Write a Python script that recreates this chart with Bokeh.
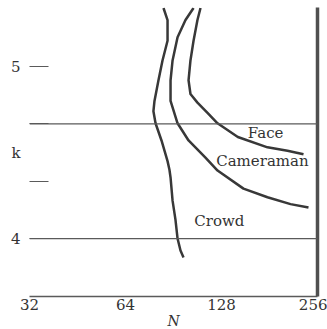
from bokeh.plotting import figure
from bokeh.models import Range1d, FixedTicker, CustomJSTickFormatter, Span, ColumnDataSource, LinearAxis
from bokeh.core.properties import value
from bokeh.embed import file_html
from bokeh.resources import INLINE

# ---- data ----
crowd_n = [84.2, 86.7, 86.7, 83.6, 81.2, 78.9, 78.3, 79.5, 83.0, 86.7, 87.9, 88.6, 89.9, 91.8, 93.2, 95.2, 97.3]
crowd_k = [5.34, 5.27, 5.15, 5.035, 4.92, 4.80, 4.74, 4.67, 4.57, 4.45, 4.40, 4.355, 4.22, 4.11, 4.00, 3.93, 3.89]

cam_n = [104.6, 98.7, 93.2, 89.9, 88.6, 88.6, 93.2, 100.9, 114.0, 124.4, 150.0, 178.4, 210.7, 239.9]
cam_k = [5.34, 5.27, 5.17, 5.035, 4.92, 4.80, 4.67, 4.57, 4.47, 4.395, 4.29, 4.24, 4.20, 4.18]

face_n = [110.0, 107.6, 104.6, 102.3, 100.9, 102.3, 107.6, 115.7, 124.4, 144.0, 178.4, 206.1, 231.4]
face_k = [5.34, 5.27, 5.15, 5.035, 4.92, 4.84, 4.79, 4.73, 4.67, 4.59, 4.53, 4.51, 4.49]

series_names = ["Face", "Cameraman", "Crowd"]
label_n = [176.0, 172.0, 126.0]
label_k = [4.616, 4.448, 4.099]

x_ticks = [32, 64, 128, 256]
y_label_ticks = [4.0, 4.5, 5.0]
y_tick_labels = {4.0: "4", 4.5: "k", 5.0: "5"}
y_marks = [4.0, 13 / 3, 14 / 3, 5.0]
ref_lines = [4.0, 14 / 3]
x_label = "N"

SERIF = "DejaVu Serif"
CURVE = "#383838"
GRAY = "#5a5a5a"
TXT = "#333333"

p = figure(frame_width=288, frame_height=289, x_axis_type="log",
           x_range=Range1d(x_ticks[0], x_ticks[-1]),
           y_range=Range1d(3.663, 5.343),
           output_backend="svg", toolbar_location=None,
           min_border_left=29, min_border_right=10, min_border_top=7, min_border_bottom=33)
p.outline_line_color = None
p.grid.grid_line_color = None
p.background_fill_color = "white"
p.border_fill_color = "white"

# x axis
xa = p.xaxis[0]
xa.ticker = FixedTicker(ticks=x_ticks)
xa.formatter = CustomJSTickFormatter(code="return tick.toFixed(0);")
xa.major_tick_in = 0
xa.major_tick_out = 0
xa.minor_tick_in = 0
xa.minor_tick_out = 0
xa.axis_line_color = GRAY
xa.axis_line_width = 1.5
xa.major_label_standoff = 2
xa.major_label_text_font = SERIF
xa.major_label_text_font_size = "15px"
xa.major_label_text_color = TXT
xa.axis_label = x_label
xa.axis_label_standoff = 0
xa.axis_label_text_font = SERIF
xa.axis_label_text_font_size = "14px"
xa.axis_label_text_font_style = "italic"
xa.axis_label_text_color = TXT

# y axis: labels 4, k, 5; inward dash marks as minor ticks
ya = p.yaxis[0]
ya.ticker = FixedTicker(ticks=y_label_ticks, minor_ticks=y_marks)
ya.major_label_overrides = y_tick_labels
ya.axis_line_color = None
ya.major_tick_in = 0
ya.major_tick_out = 0
ya.minor_tick_in = 19
ya.minor_tick_out = 0
ya.minor_tick_line_color = GRAY
ya.minor_tick_line_width = 1.2
ya.major_label_standoff = 9
ya.major_label_text_font = SERIF
ya.major_label_text_font_size = "15px"
ya.major_label_text_color = TXT

# right border line
ra = LinearAxis(ticker=FixedTicker(ticks=ref_lines), axis_line_color="#505050", axis_line_width=3.5,
                major_tick_in=0, major_tick_out=0, minor_tick_in=0, minor_tick_out=0,
                major_label_text_color=None, major_label_text_font_size="1px",
                major_label_standoff=0)
p.add_layout(ra, "right")

for loc in ref_lines:
    p.add_layout(Span(location=loc, dimension="width", line_color=GRAY, line_width=1.2))

for xs, ys in [(face_n, face_k), (cam_n, cam_k), (crowd_n, crowd_k)]:
    p.line(xs, ys, line_color=CURVE, line_width=2.5, line_join="round")

src = ColumnDataSource(dict(x=label_n, y=label_k, t=series_names))
p.text(x="x", y="y", text="t", source=src, text_font=value(SERIF), text_font_size="15px",
       text_color=TXT, text_align="center", text_baseline="middle")

open("out.html", "w").write(file_html(p, INLINE))
